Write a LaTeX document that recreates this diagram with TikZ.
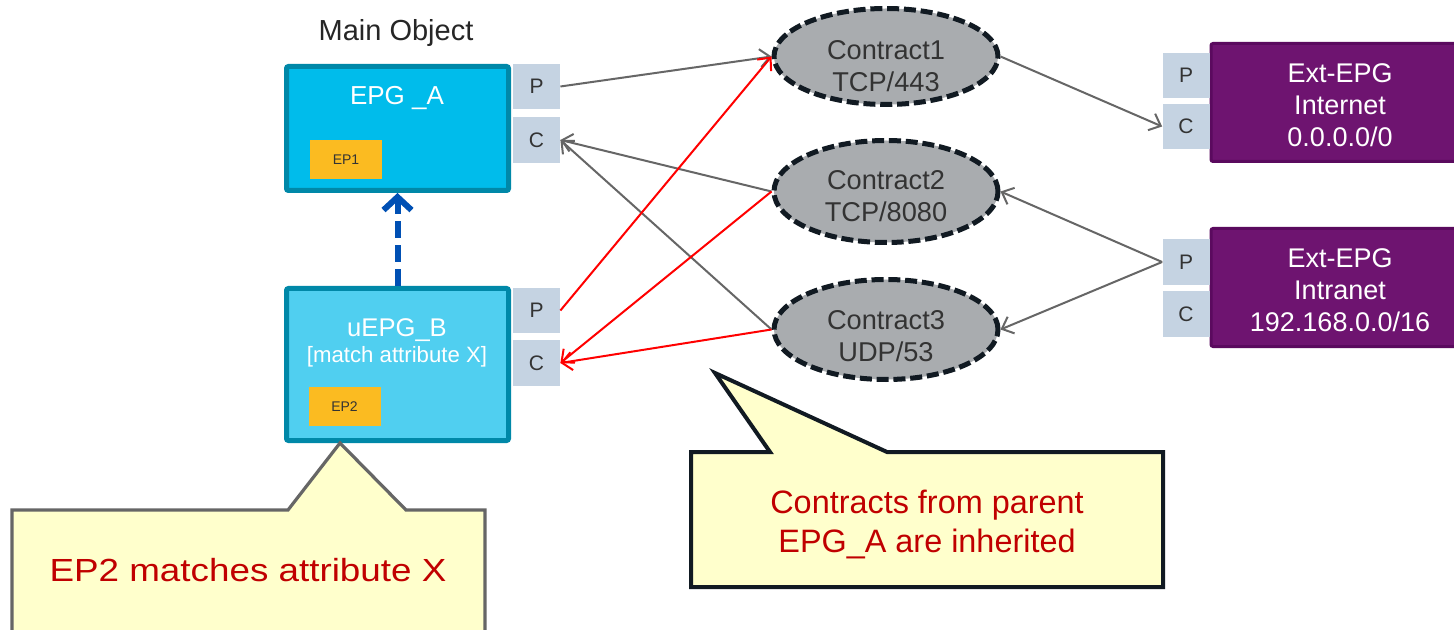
\documentclass[tikz,border=0pt]{standalone}
\usepackage{fontspec}
\setmainfont{Liberation Sans}
\usetikzlibrary{shapes.geometric,arrows.meta}

\definecolor{epgfill}{HTML}{00BCEB}
\definecolor{uepgfill}{HTML}{50CFF0}
\definecolor{epgline}{HTML}{0088A8}
\definecolor{epfill}{HTML}{FBBB21}
\definecolor{pcfill}{HTML}{C5D3E2}
\definecolor{ctfill}{HTML}{A9ACAF}
\definecolor{ctline}{HTML}{111A22}
\definecolor{extfill}{HTML}{6E1470}
\definecolor{extline}{HTML}{5A0A5E}
\definecolor{linkgray}{HTML}{666666}
\definecolor{inhblue}{HTML}{0050B4}
\definecolor{notefill}{HTML}{FFFFCC}
\definecolor{notered}{HTML}{C00000}
\definecolor{txtdark}{HTML}{333333}

\tikzset{
  epgbox/.style={rectangle, draw=epgline, line width=2.5pt, rounded corners=1pt,
    minimum width=111pt, inner sep=0pt},
  epbox/.style={rectangle, fill=epfill, minimum width=36pt, minimum height=19.5pt,
    inner sep=0pt, font=\fontsize{7}{8}\selectfont, text=txtdark},
  pcbox/.style={rectangle, fill=pcfill, minimum width=23.5pt, minimum height=22.5pt,
    inner sep=0pt, font=\fontsize{10.5}{12}\selectfont, text=txtdark},
  contract/.style={ellipse, fill=ctfill, draw=ctline, line width=2.5pt,
    dash pattern=on 6pt off 2.4pt, minimum width=112pt, minimum height=48pt,
    inner sep=0pt},
  ctlabel/.style={inner sep=0pt, align=center, text=txtdark,
    font=\fontsize{13.6}{16}\selectfont},
  extbox/.style={rectangle, fill=extfill, draw=extline, line width=1.5pt,
    rounded corners=1pt, minimum width=129pt, minimum height=59pt, inner sep=0pt},
  extlabel/.style={inner sep=0pt, align=center, text=white,
    font=\fontsize{13.5}{16}\selectfont},
  whitetxt/.style={text=white, inner sep=0pt, align=center},
  grayarrow/.style={draw=linkgray, line width=1pt,
    -{Straight Barb[length=5pt,width=9pt,line width=1pt]}},
  redarrow/.style={draw=red, line width=1pt,
    -{Straight Barb[length=5pt,width=9pt,line width=1pt]}},
  inherit/.style={draw=inhblue, line width=3pt, dash pattern=on 8.5pt off 3.5pt,
    -{Straight Barb[length=6.5pt,width=14pt,line width=3pt]}, line cap=butt},
  notetxt/.style={text=notered, inner sep=0pt, align=center},
}

\begin{document}
\begin{tikzpicture}[x=0.5pt, y=-0.5pt]
  \useasboundingbox (0,0) rectangle (1454,630);
  \clip (0,0) rectangle (1454,630);
  \fill[white] (0,0) rectangle (1454,630);

  % parent EPG
  \node[font=\fontsize{14.5}{16}\selectfont, text=black!85, inner sep=0pt] (mainlbl) at (396,33) {Main Object};
  \node[epgbox, fill=epgfill, minimum height=62pt] (epgA) at (397.5,128.5) {};
  \node[whitetxt, font=\fontsize{13}{15}\selectfont] (epgAtxt) at (397,98) {EPG \_A};
  \node[epbox] (ep1) at (346,159.5) {EP1};
  \node[pcbox] (pA) at (536.5,86.5) {P};
  \node[pcbox, minimum height=23pt] (cA) at (536.5,140) {C};

  % micro EPG
  \node[epgbox, fill=uepgfill, minimum height=76pt] (epgB) at (397.5,364.5) {};
  \node[whitetxt, font=\fontsize{12.8}{15}\selectfont] (epgBtxt) at (397,330) {uEPG\_B};
  \node[whitetxt, font=\fontsize{11.1}{13}\selectfont] (epgBattr) at (397,357) {[match attribute X]};
  \node[epbox] (ep2) at (344.5,406.5) {EP2};
  \node[pcbox] (pB) at (536.5,310.5) {P};
  \node[pcbox, minimum height=23pt] (cB) at (536.5,363) {C};

  % contracts
  \node[contract] (ct1) at (886,56.5) {};
  \node[ctlabel] (ct1txt) at (886,66) {Contract1\\TCP/443};
  \node[contract, minimum height=51pt] (ct2) at (886,191.5) {};
  \node[ctlabel] (ct2txt) at (886,196.5) {Contract2\\TCP/8080};
  \node[contract, minimum height=50pt] (ct3) at (886,329.5) {};
  \node[ctlabel] (ct3txt) at (886,336) {Contract3\\UDP/53};

  % external EPGs
  \node[extbox] (extI) at (1340,102.5) {};
  \node[extlabel] (extItxt) at (1340,105.5) {Ext-EPG\\Internet\\0.0.0.0/0};
  \node[pcbox] (pI) at (1186,75.5) {P};
  \node[pcbox] (cI) at (1186,126.5) {C};
  \node[extbox] (extN) at (1340,287.5) {};
  \node[extlabel] (extNtxt) at (1340,290.5) {Ext-EPG\\Intranet\\192.168.0.0/16};
  \node[pcbox, minimum height=23pt] (pN) at (1186,262) {P};
  \node[pcbox, minimum height=23pt] (cN) at (1186,314) {C};

  % inheritance
  \draw[inherit] (epgB.north) -- (epgA.south);

  % contract relations
  \draw[grayarrow] (pA.east) -- (ct1.west);
  \draw[grayarrow] (ct1.east) -- (cI.west);
  \draw[grayarrow] (ct2.west) -- (cA.east);
  \draw[grayarrow] (ct3.west) -- (cA.east);
  \draw[grayarrow] (pN.west) -- (ct2.east);
  \draw[grayarrow] (pN.west) -- (ct3.east);
  \draw[redarrow] (pB.east) -- (ct1.west);
  \draw[redarrow] (ct2.west) -- (cB.east);
  \draw[redarrow] (ct3.west) -- (cB.east);

  % callouts
  \draw[fill=notefill, draw=black!60, line width=1.6pt, line join=miter]
    (12,510) -- (288,510) -- (340,443) -- (406,510) -- (485,510) -- (485,660) -- (12,660) -- cycle;
  \node[notetxt] (note1) at (248,570)
    {\scalebox{1.15}[1]{\fontsize{16}{19}\selectfont EP2 matches attribute X}};

  \draw[fill=notefill, draw=ctline, line width=2pt, line join=miter]
    (691,452) -- (770,452) -- (715,373) -- (887,452) -- (1163,452) -- (1163,587) -- (691,587) -- cycle;
  \node[notetxt, font=\fontsize{16.2}{19.5}\selectfont] (note2) at (927,524)
    {Contracts from parent\\EPG\_A are inherited};
\end{tikzpicture}
\end{document}
